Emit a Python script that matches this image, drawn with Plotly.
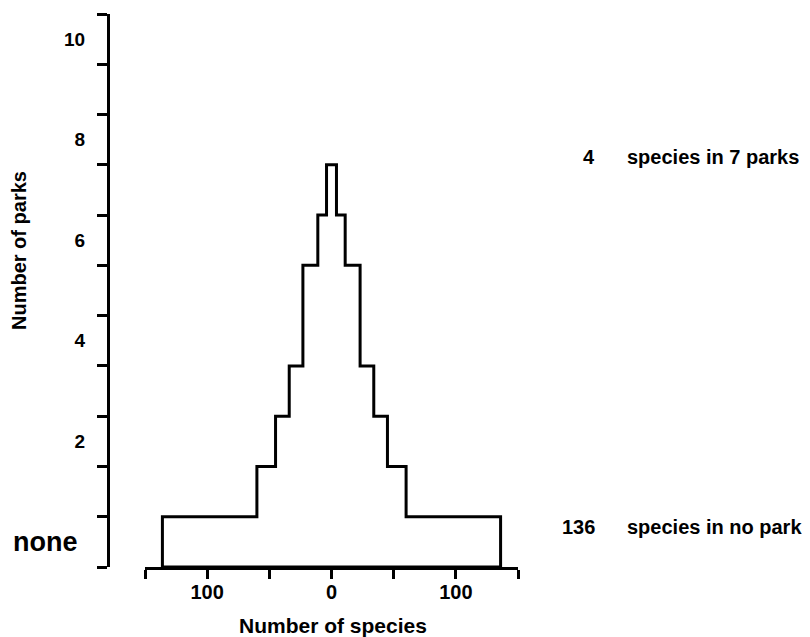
import plotly.graph_objects as go

# ---- data ----
park_counts = [0, 1, 2, 3, 4, 5, 6, 7, 8, 9, 10]          # number of parks (bands)
species_counts = [136, 60, 45, 34, 23, 23, 11, 4, 0, 0, 0]  # species per band
y_tick_vals = [2, 4, 6, 8, 10]
y_tick_text = ["2", "4", "6", "8", "10"]
x_tick_vals = [-150, -100, -50, 0, 50, 100, 150]
x_tick_text = ["", "100", "", "0", "", "100", ""]
note_top = ("4", "species in 7 parks")
note_bottom = ("136", "species in no park")

# page body has an 8px margin: size the figure to fit the 810x637 window
OFF = 8
W, H = 810 - OFF, 637 - OFF
def px(x):
    return (x - OFF) / W
def py(y):
    return 1 - (y - OFF) / H

FONT = "Liberation Sans, Arial, Helvetica, sans-serif"

# ---- build the kite outline from the data ----
bands = [(k, w) for k, w in zip(park_counts, species_counts) if w > 0]
xs, ys = [-bands[0][1]], [0]
for k, w in bands:
    xs += [w, w]
    ys += [k, k + 1]
for k, w in reversed(bands):
    xs += [-w, -w]
    ys += [k + 1, k]

fig = go.Figure()
fig.add_trace(go.Scatter(x=xs, y=ys, mode="lines",
                         line=dict(color="black", width=3),
                         hoverinfo="skip", showlegend=False))

fig.update_layout(
    width=W, height=H,
    margin=dict(l=0, r=0, t=0, b=0),
    paper_bgcolor="white", plot_bgcolor="white",
    font=dict(family=FONT, color="black", size=19, weight="bold"),
    xaxis=dict(
        domain=[px(145), px(518)], range=[-150, 150],
        tickvals=x_tick_vals, ticktext=x_tick_text,
        ticks="outside", ticklen=9, tickwidth=3, tickcolor="black",
        ticklabelstandoff=-4,
        showline=True, linewidth=3, linecolor="black",
        showgrid=False, zeroline=False, automargin=False,
        tickfont=dict(size=20, weight="bold"),
    ),
    yaxis=dict(
        domain=[py(567), py(14)], range=[0, 11],
        anchor="free", position=px(108),
        tickvals=[v + 0.5 for v in y_tick_vals], ticktext=y_tick_text,
        ticks="", ticklabelstandoff=18,
        minor=dict(tickvals=list(range(12)), ticks="outside", ticklen=10,
                   tickwidth=3, tickcolor="black", showgrid=False),
        showline=True, linewidth=3, linecolor="black",
        showgrid=False, zeroline=False, automargin=False,
        tickfont=dict(size=19, weight="bold"),
    ),
)

ann = []
# "none" label for band 0
ann.append(dict(text="none", x=px(80), y=0.5, xref="paper", yref="y",
                xanchor="right", yanchor="middle", showarrow=False,
                font=dict(size=27, weight="bold")))
# axis titles
ann.append(dict(text="Number of species", x=px(333), y=py(625), xref="paper", yref="paper",
                xanchor="center", yanchor="middle", showarrow=False,
                font=dict(size=21, weight="bold")))
ann.append(dict(text="Number of parks", x=px(19), y=py(251), xref="paper", yref="paper",
                xanchor="center", yanchor="middle", textangle=-90, showarrow=False,
                font=dict(size=20, weight="bold")))
# notes on the right
for (num, txt), yc in ((note_top, 157), (note_bottom, 527)):
    ann.append(dict(text=num, x=px(597), y=py(yc), xref="paper", yref="paper",
                    xanchor="right", yanchor="middle", showarrow=False,
                    font=dict(size=20, weight="bold")))
    ann.append(dict(text=txt, x=px(625), y=py(yc), xref="paper", yref="paper",
                    xanchor="left", yanchor="middle", showarrow=False,
                    font=dict(size=20, weight="bold")))
fig.update_layout(annotations=ann)

fig.write_html("out.html")
